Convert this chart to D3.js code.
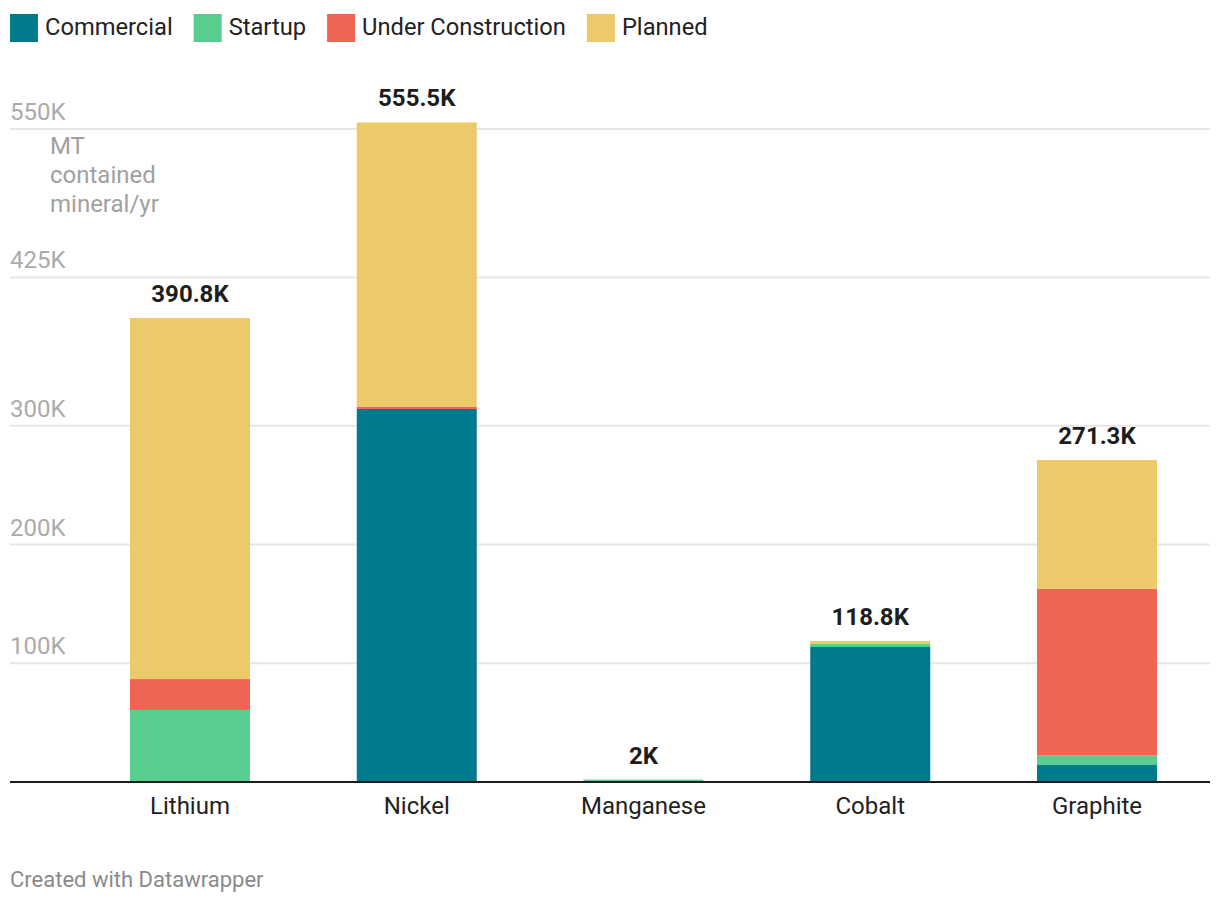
<!DOCTYPE html>
<html>
<head>
<meta charset="utf-8">
<script src="https://cdn.jsdelivr.net/npm/d3@7"></script>
<style>
  html, body { margin: 0; padding: 0; background: #fff; }
  svg { display: block; font-family: Roboto, "Noto Sans", sans-serif; }
</style>
</head>
<body>
<svg id="chart" width="1220" height="904"></svg>
<script>
// ---- data ----
const categories = ["Lithium", "Nickel", "Manganese", "Cobalt", "Graphite"];
const seriesNames = ["Commercial", "Startup", "Under Construction", "Planned"];
const commercial        = [0,     314.2, 0, 113.7, 14.3];
const startup           = [60.6,  0,     2, 2.5,   7.9];
const underConstruction = [26.1,  2.0,   0, 0,     140.4];
const planned           = [304.1, 239.3, 0, 2.6,   108.7];
const tickValues = [100, 200, 300, 425, 550];
const tickLabels = ["100K", "200K", "300K", "425K", "550K"];
const colors = ["#017a8b", "#59cd90", "#ef6453", "#edca69"];
const unitLabel = ["MT", "contained", "mineral/yr"];
const footer = "Created with Datawrapper";

const seriesValues = [commercial, startup, underConstruction, planned];
const rows = categories.map((c, i) => {
  const r = { category: c };
  seriesNames.forEach((s, j) => r[s] = seriesValues[j][i]);
  return r;
});

const svg = d3.select("#chart");

const y = d3.scaleLinear().domain([0, 550]).range([782, 129]);
const x = d3.scaleBand().domain(categories).range([130, 1157])
  .paddingInner(1 - 120 / 226.75).paddingOuter(0);

// gridlines + tick labels
const grid = svg.append("g");
grid.selectAll("line").data(tickValues).join("line")
  .attr("x1", 10).attr("x2", 1210)
  .attr("y1", d => y(d)).attr("y2", d => y(d))
  .attr("stroke", "#e6e6e6").attr("stroke-width", 2);
grid.selectAll("text").data(tickValues).join("text")
  .attr("x", 10).attr("y", d => y(d) - 9)
  .attr("fill", "#ababab").attr("font-size", 24)
  .text((d, i) => tickLabels[i]);

// unit label
svg.append("g").selectAll("text").data(unitLabel).join("text")
  .attr("x", 50).attr("y", (d, i) => 154 + i * 29)
  .attr("fill", "#a0a0a0").attr("font-size", 24)
  .text(d => d);

// stacked bars
const stack = d3.stack().keys(seriesNames)(rows);
svg.append("g").selectAll("g").data(stack).join("g")
  .attr("fill", (d, i) => colors[i])
  .selectAll("rect").data(d => d).join("rect")
  .attr("x", d => x(d.data.category))
  .attr("width", x.bandwidth())
  .attr("y", d => y(d[1]))
  .attr("height", d => Math.max(0, y(d[0]) - y(d[1])));

// totals
const totals = rows.map(r => d3.sum(seriesNames, s => r[s]));
svg.append("g").selectAll("text").data(categories).join("text")
  .attr("x", d => x(d) + x.bandwidth() / 2)
  .attr("y", (d, i) => y(totals[i]) - 16)
  .attr("text-anchor", "middle")
  .attr("font-size", 24).attr("font-weight", 700).attr("fill", "#1d1d1d")
  .text((d, i) => (+totals[i].toFixed(1)) + "K");

// baseline axis
svg.append("line")
  .attr("x1", 10).attr("x2", 1210)
  .attr("y1", y(0)).attr("y2", y(0))
  .attr("stroke", "#1d1d1d").attr("stroke-width", 2);

// x axis labels
const xAxis = d3.axisBottom(x).tickSize(0).tickPadding(0);
const xg = svg.append("g").attr("transform", `translate(0,${y(0)})`).call(xAxis);
xg.select(".domain").remove();
xg.selectAll("text")
  .attr("y", 32).attr("dy", null)
  .attr("font-size", 24).attr("font-family", "Roboto, 'Noto Sans', sans-serif")
  .attr("fill", "#222");

// legend
const legend = svg.append("g");
let lx = 10;
seriesNames.forEach((s, i) => {
  legend.append("rect").attr("x", lx).attr("y", 14).attr("width", 28).attr("height", 28)
    .attr("fill", colors[i]);
  const t = legend.append("text").attr("x", lx + 35).attr("y", 35)
    .attr("font-size", 23.7).attr("fill", "#222").text(s);
  lx += 35 + t.node().getComputedTextLength() + 21;
});

// footer
svg.append("text").attr("x", 10).attr("y", 887)
  .attr("font-size", 22).attr("fill", "#8a8a8a").text(footer);
</script>
</body>
</html>
